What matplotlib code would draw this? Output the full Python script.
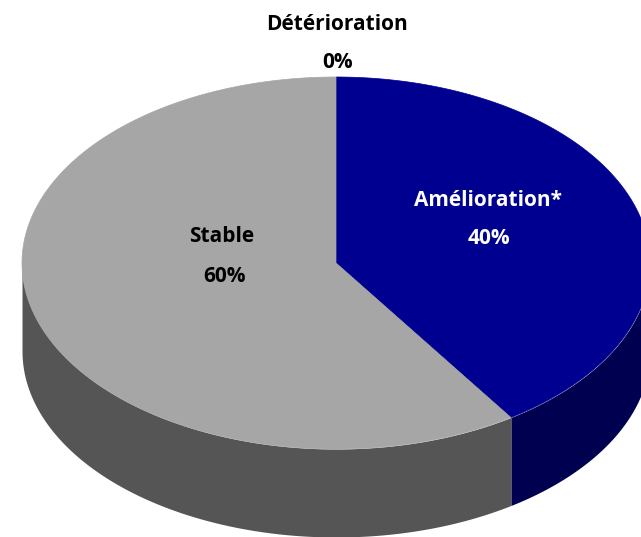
import numpy as np
from matplotlib import pyplot as plt

categories = ['Amélioration*', 'Stable', 'Détérioration']
valeurs = [40.6, 59.4, 0.0]
etiquettes = ['40%', '60%', '0%']
couleurs = ['#000090', '#a6a6a6', '#7f7f7f']
couleurs_cote = ['#000050', '#555555', '#555555']

W, H = 641, 537
CX, CY = 336, 263
RX, RY = 314, 186
EP = 88

plt.rcParams['font.family'] = ['Open Sans', 'DejaVu Sans']

fig = plt.figure(figsize=(W / 100, H / 100), dpi=100)
ax = fig.add_axes([0, 0, 1, 1])
ax.set_xlim(0, W)
ax.set_ylim(H, 0)
ax.axis('off')

debut = 90.0
total = sum(valeurs)
for val, coul, coul_cote in zip(valeurs, couleurs, couleurs_cote):
    fin = debut - val / total * 360
    t = np.radians(np.linspace(debut, fin, 200))
    x = CX + RX * np.cos(t)
    y = CY - RY * np.sin(t)
    # cote visible seulement sur la moitie basse
    bas = np.sin(t) <= 0
    if bas.any():
        ax.fill_between(x[bas], y[bas], y[bas] + EP, color=coul_cote, lw=0, zorder=1)
    if val > 0:
        ax.fill(np.r_[CX, x], np.r_[CY, y], fc=coul, ec=coul, lw=0.5, zorder=2)
    debut = fin

txt = dict(ha='center', va='center', fontweight='bold', fontsize=15, zorder=3)
ax.text(488, 201, categories[0], color='white', **txt)
ax.text(489, 239, etiquettes[0], color='white', **txt)
ax.text(222, 237, categories[1], color='black', **txt)
ax.text(224, 276, etiquettes[1], color='black', **txt)
ax.text(337, 24, categories[2], color='black', **txt)
ax.text(338, 62, etiquettes[2], color='black', **txt)

fig.savefig('out.png', dpi=100)
